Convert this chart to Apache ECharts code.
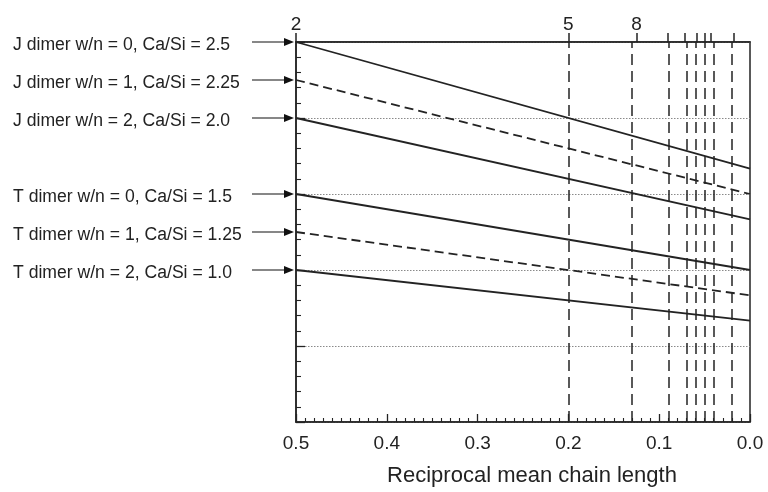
<!DOCTYPE html>
<html>
<head>
<meta charset="utf-8">
<title>Ca/Si vs reciprocal mean chain length</title>
<script src="https://cdn.jsdelivr.net/npm/echarts@6/dist/echarts.min.js"></script>
<style>
  html, body { margin: 0; padding: 0; background: #ffffff; }
  #chart { width: 768px; height: 492px; }
</style>
</head>
<body>
<div id="chart"></div>
<script>
// Mean chain lengths n marked along the top edge (x = 1/n)
var chainLengths = [2, 5, 8, 11, 14, 17, 20, 23, 56];
// Chain lengths that carry a number on the top edge
var labelledChainLengths = [2, 5, 8];

// Structural models: Ca/Si at dimer (1/n = 0.5) and at infinite chain (1/n = 0)
var modelNames = [
  'J dimer w/n = 0, Ca/Si = 2.5',
  'J dimer w/n = 1, Ca/Si = 2.25',
  'J dimer w/n = 2, Ca/Si = 2.0',
  'T dimer w/n = 0, Ca/Si = 1.5',
  'T dimer w/n = 1, Ca/Si = 1.25',
  'T dimer w/n = 2, Ca/Si = 1.0'
];
var dimerCaSi = [2.5, 2.25, 2.0, 1.5, 1.25, 1.0];
var infiniteCaSi = [1.667, 1.5, 1.333, 1.0, 0.833, 0.667];
var modelDashed = [false, true, false, false, true, false];

var xTickLabels = ['0.5', '0.4', '0.3', '0.2', '0.1', '0.0'];

var FONT = '"Liberation Sans", Arial, Helvetica, sans-serif';
var INK = '#232323';

var chart = echarts.init(document.getElementById('chart'), null, { renderer: 'canvas' });

var reciprocal = chainLengths.map(function (n) { return 1 / n; });
var labelledReciprocal = labelledChainLengths.map(function (n) { return 1 / n; });

var modelSeries = modelNames.map(function (name, i) {
  return {
    name: name,
    type: 'line',
    xAxisIndex: 0,
    yAxisIndex: 0,
    symbol: 'none',
    silent: true,
    z: 5,
    lineStyle: {
      color: INK,
      width: 1.8,
      type: modelDashed[i] ? [9, 5] : 'solid'
    },
    data: [[0.5, dimerCaSi[i]], [0, infiniteCaSi[i]]]
  };
});

// Vertical guides at each longer chain length
var guideSeries = {
  name: 'chain length guides',
  type: 'line',
  xAxisIndex: 0,
  yAxisIndex: 0,
  data: [],
  silent: true,
  z: 4,
  markLine: {
    silent: true,
    symbol: ['none', 'none'],
    label: { show: false },
    lineStyle: { color: INK, width: 1.5, type: [11, 6] },
    data: reciprocal.filter(function (v) { return v < 0.5; }).map(function (v) {
      return { xAxis: v };
    })
  }
};

var option = {
  backgroundColor: '#ffffff',
  animation: false,
  grid: {
    left: 296, right: 18, top: 42, bottom: 60,
    show: true, borderColor: INK, borderWidth: 1.5, backgroundColor: 'transparent'
  },
  xAxis: [
    {
      type: 'value',
      position: 'bottom',
      inverse: true,
      min: 0, max: 0.5, interval: 0.1,
      axisLine: { show: true, onZero: false, lineStyle: { color: INK, width: 1.5 } },
      axisTick: { show: true, inside: true, length: 8, lineStyle: { color: INK, width: 1.3 } },
      minorTick: { show: true, splitNumber: 10, length: 4, lineStyle: { color: INK, width: 1.1 } },
      splitLine: { show: false },
      axisLabel: {
        margin: 12,
        fontFamily: FONT, fontSize: 19, color: '#222',
        formatter: function (v) { return xTickLabels[Math.round((0.5 - v) * 10)]; }
      },
      name: 'Reciprocal mean chain length',
      nameLocation: 'middle',
      nameGap: 43,
      nameTextStyle: { fontFamily: FONT, fontSize: 22, color: '#222', padding: [0, 0, 0, 18] }
    },
    {
      type: 'value',
      position: 'top',
      inverse: true,
      min: 0, max: 0.5,
      axisLine: { show: true, onZero: false, lineStyle: { color: INK, width: 1.5 } },
      axisTick: {
        show: true, inside: false, length: 9,
        customValues: reciprocal,
        lineStyle: { color: INK, width: 1.5 }
      },
      splitLine: { show: false },
      axisLabel: {
        show: true,
        margin: 8,
        customValues: labelledReciprocal,
        fontFamily: FONT, fontSize: 19, color: '#222',
        formatter: function (v) { return String(Math.round(1 / v)); }
      }
    }
  ],
  yAxis: [
    {
      type: 'value',
      position: 'left',
      min: 0, max: 2.5, interval: 0.5,
      axisLine: { show: true, onZero: false, lineStyle: { color: INK, width: 1.5 } },
      axisTick: { show: true, inside: true, length: 9, lineStyle: { color: INK, width: 1.3 } },
      minorTick: { show: true, splitNumber: 5, length: 5, lineStyle: { color: INK, width: 1.1 } },
      axisLabel: { show: false },
      splitLine: { show: true, lineStyle: { color: '#8a8a8a', width: 1, type: [1.5, 1.5] } }
    }
  ],
  series: modelSeries.concat([guideSeries])
};

chart.setOption(option);

// Labels with arrows pointing at each model's dimer value on the left axis
var LABEL_FONT = '17.6px ' + FONT;
var measureCtx = document.createElement('canvas').getContext('2d');
measureCtx.font = LABEL_FONT;

var graphics = [];
modelNames.forEach(function (name, i) {
  var p = chart.convertToPixel({ xAxisIndex: 0, yAxisIndex: 0 }, [0.5, dimerCaSi[i]]);
  var tipX = p[0] - 2;
  var y = p[1];
  var textX = 13;
  var textW = measureCtx.measureText(name).width;
  var startX = Math.max(252, textX + textW + 5);
  graphics.push({
    type: 'text',
    left: textX,
    top: y - 6,
    silent: true,
    style: { text: name, font: LABEL_FONT, fill: '#222' }
  });
  graphics.push({
    type: 'line',
    silent: true,
    shape: { x1: startX, y1: y, x2: tipX - 8, y2: y },
    style: { stroke: '#111', lineWidth: 1.2 }
  });
  graphics.push({
    type: 'polygon',
    silent: true,
    shape: { points: [[tipX, y], [tipX - 10, y - 4], [tipX - 10, y + 4]] },
    style: { fill: '#111' }
  });
});
chart.setOption({ graphic: graphics });
</script>
</body>
</html>
